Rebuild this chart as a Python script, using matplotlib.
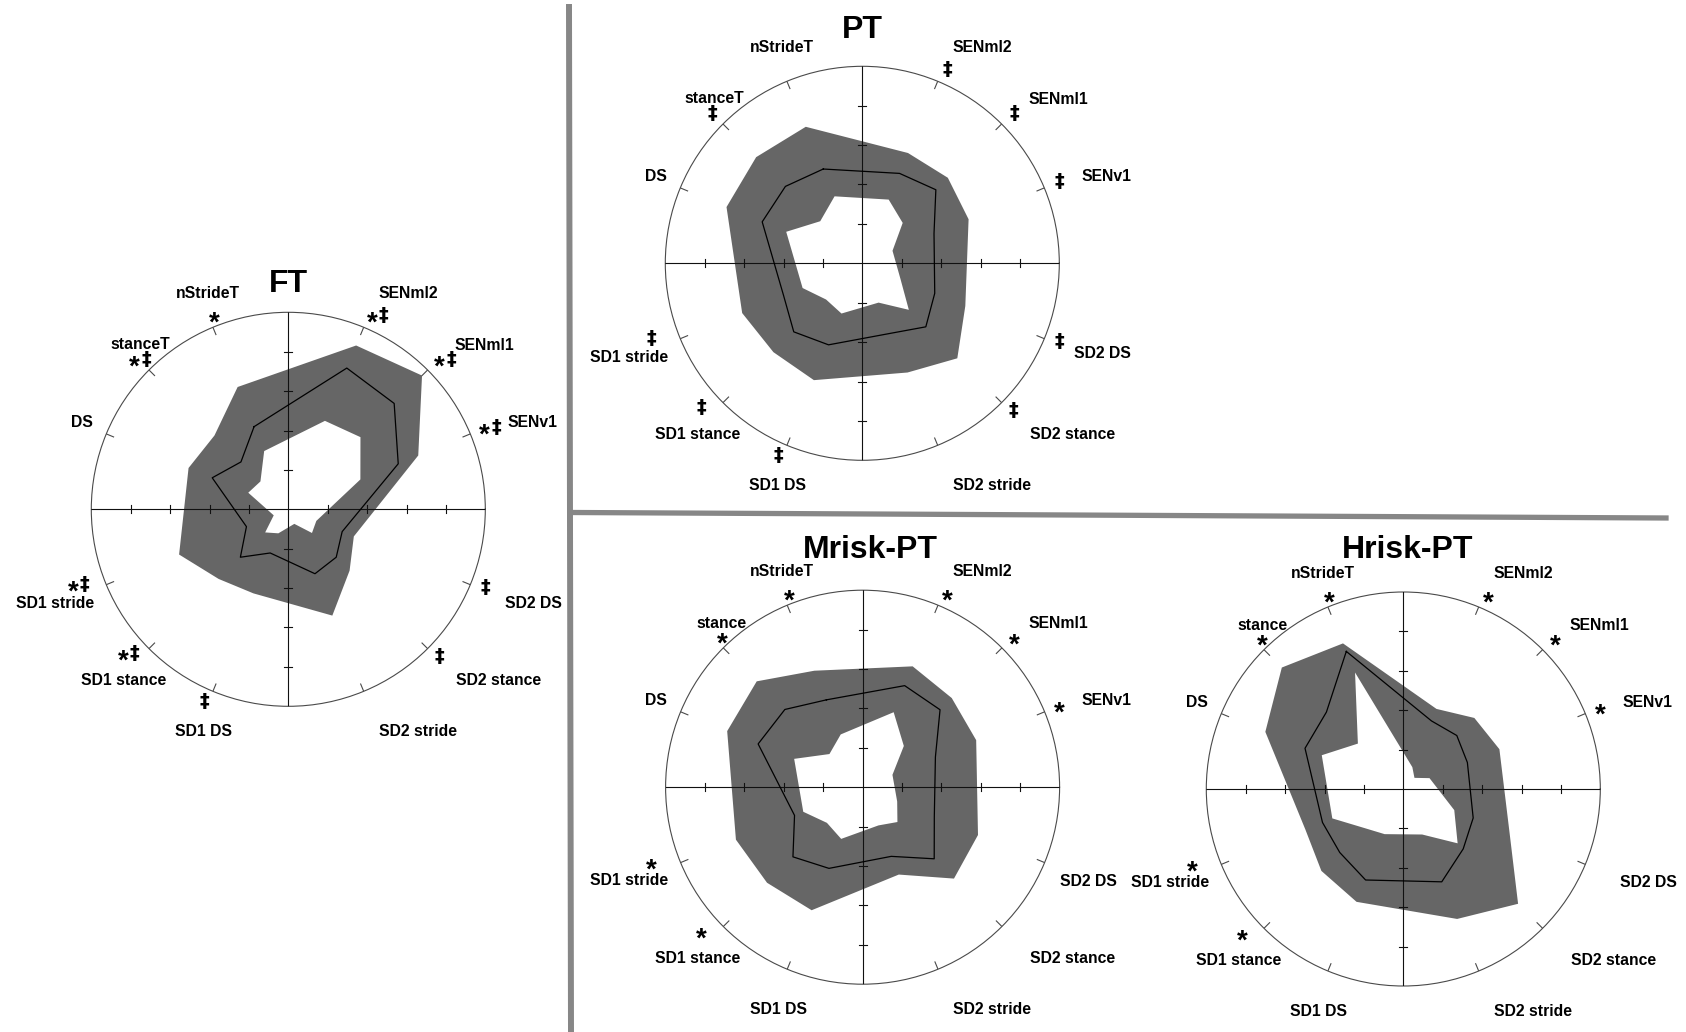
import numpy as np
import matplotlib
matplotlib.use("Agg")
import matplotlib.pyplot as plt
from matplotlib.lines import Line2D

plt.rcParams['font.family'] = ['Liberation Sans', 'DejaVu Sans']

W, H = 1686, 1032
UNIT = 39.4          # pixels por unidade radial (circulo = 5)
RMAX = 5

# variaveis e angulos (graus) de cada eixo do radar
variaveis = ['nStrideT', 'SENml2', 'SENml1', 'SENv1', 'SD2 DS', 'SD2 stance',
             'SD2 stride', 'SD1 DS', 'SD1 stance', 'SD1 stride', 'DS', 'stanceT']
angulos = [112.5, 67.5, 45, 22.5, -22.5, -45, -67.5, -112.5, -135, -157.5, 157.5, 135]

# FT
ft_inf = [1.6, 2.43, 2.59, 1.98, 0.77, 0.85, 0.4, 0.66, 0.83, 0.4, 1.1, 1.0]
ft_media = [2.27, 3.88, 3.8, 3.02, 1.48, 1.72, 1.77, 1.2, 1.72, 1.15, 2.09, 1.7]
ft_sup = [3.36, 4.5, 4.8, 3.57, 1.8, 2.2, 2.92, 2.31, 2.5, 3.0, 2.74, 2.65]
ft_sig = ['*', '*‡', '*‡', '*‡', '‡', '‡', '', '‡', '*‡', '*‡', '', '*‡']

# PT
pt_inf = [1.84, 1.75, 1.45, 0.83, 1.05, 1.67, 1.08, 1.38, 1.30, 1.64, 2.09, 1.51]
pt_media = [2.59, 2.47, 2.64, 1.97, 1.99, 2.28, 1.92, 2.24, 2.46, 2.16, 2.75, 2.76]
pt_sup = [3.75, 3.03, 3.07, 2.92, 2.83, 3.41, 3.0, 3.21, 3.19, 3.30, 3.73, 3.81]
pt_sig = ['', '‡', '‡', '‡', '‡', '‡', '', '‡', '‡', '‡', '', '‡']

# Mrisk-PT
mr_inf = [1.45, 2.06, 1.48, 0.82, 0.95, 1.25, 1.05, 1.42, 1.28, 1.63, 1.88, 1.19]
mr_media = [2.4, 2.79, 2.78, 2.0, 1.97, 2.57, 1.9, 2.23, 2.5, 1.87, 2.87, 2.79]
mr_sup = [3.2, 3.32, 3.2, 3.12, 3.17, 3.28, 2.4, 3.38, 3.43, 3.48, 3.72, 3.8]
mr_sig = ['*', '*', '*', '*', '', '', '', '', '*', '*', '', '*']

# Hrisk-PT
hr_inf = [3.2, 0.6, 0.4, 0.72, 1.4, 1.95, 1.25, 1.24, 1.4, 1.95, 2.24, 1.63]
hr_media = [3.78, 1.87, 1.92, 1.76, 1.92, 2.15, 2.55, 2.5, 2.28, 2.22, 2.7, 2.76]
hr_sup = [4.0, 2.2, 2.55, 2.64, 2.92, 4.12, 3.57, 3.1, 2.94, 2.69, 3.79, 4.36]
hr_sig = ['*', '*', '*', '*', '', '', '', '', '*', '*', '', '*']

# posicao dos rotulos (x, y em unidades do raio)
pos_rotulo = {
    'nStrideT': (-2.04, 5.5), 'SENml2': (3.04, 5.5), 'SENml1': (4.98, 4.19),
    'SENv1': (6.19, 2.23), 'SD2 DS': (6.22, -2.35), 'SD2 stance': (5.34, -4.32),
    'SD2 stride': (3.28, -5.62), 'SD1 DS': (-2.14, -5.62), 'SD1 stance': (-4.19, -4.32),
    'SD1 stride': (-5.93, -2.35), 'DS': (-5.25, 2.23), 'stanceT': (-3.75, 4.2),
}
pos_sig = {
    'nStrideT': (-1.87, 4.93), 'SENml2': (2.15, 4.92), 'SENml1': (3.86, 3.82),
    'SENv1': (5.0, 2.09), 'SD2 DS': (5.0, -1.97), 'SD2 stance': (3.83, -3.72),
    'SD2 stride': (2.2, -4.85), 'SD1 DS': (-2.14, -4.88), 'SD1 stance': (-4.09, -3.66),
    'SD1 stride': (-5.36, -1.91), 'DS': (-5.2, 2.0), 'stanceT': (-3.8, 3.82),
}

graficos = [
    # titulo, inf, media, sup, sig, centro (px), x do titulo, y do titulo, ajustes
    ('FT', ft_inf, ft_media, ft_sup, ft_sig, (288.3, 509.3), 0.0, 5.81, {}),
    ('PT', pt_inf, pt_media, pt_sup, pt_sig, (862.3, 263.3), 0.0, 6.02,
     {'SD2 DS': (6.09, -2.27)}),
    ('Mrisk-PT', mr_inf, mr_media, mr_sup, mr_sig, (862.6, 787.2), 0.2, 6.12,
     {'SD2 DS': (5.72, -2.36), 'stanceT': (-3.58, 4.19), 'sig_stanceT': (-3.57, 3.84)}),
    ('Hrisk-PT', hr_inf, hr_media, hr_sup, hr_sig, (1403.3, 789.0), 0.12, 6.15,
     {'stanceT': (-3.57, 4.19), 'sig_stanceT': (-3.57, 3.84)}),
]


def escrever(ax, x, y, s, size, frac, **kw):
    # y e o centro visual do texto; converte para a linha de base
    yb = y - frac * size / 72 * 100 / UNIT
    ax.text(np.arctan2(yb, x), np.hypot(x, yb), s, fontsize=size, fontweight='bold',
            ha='center', va='baseline', clip_on=False, **kw)


def segmento(ax, x0, y0, x1, y1, **kw):
    # segmento reto dado em x, y (unidades) desenhado no eixo polar
    ax.plot([np.arctan2(y0, x0), np.arctan2(y1, x1)],
            [np.hypot(x0, y0), np.hypot(x1, y1)], **kw)


fig = plt.figure(figsize=(W / 100, H / 100), dpi=100)

R = RMAX * UNIT
th = np.deg2rad(angulos + angulos[:1])
cor_eixo = '#111111'
cor_circ = '#4a4a4a'
meia = 0.1

for titulo, inf, media, sup, sig, (cx, cy), tx, ty, ajustes in graficos:
    ax = fig.add_axes([(cx - R) / W, (H - cy - R) / H, 2 * R / W, 2 * R / H],
                      projection='polar')
    ax.set_ylim(0, RMAX)
    ax.set_xticks([])
    ax.set_yticks([])
    ax.grid(False)
    ax.spines['polar'].set_linewidth(0.8)
    ax.spines['polar'].set_color(cor_circ)

    ax.fill(th, sup + sup[:1], color='#666666', lw=0, zorder=1)
    ax.fill(th, inf + inf[:1], color='white', lw=0, zorder=2)

    # eixos em cruz com marcas
    ax.plot([0, np.pi], [RMAX, RMAX], color=cor_eixo, lw=0.8, zorder=3)
    ax.plot([np.pi / 2, 3 * np.pi / 2], [RMAX, RMAX], color=cor_eixo, lw=0.8, zorder=3)
    for m in [-4, -3, -2, -1, 1, 2, 3, 4]:
        segmento(ax, m, -meia, m, meia, color=cor_eixo, lw=0.8, zorder=3)
        segmento(ax, -meia, m, meia, m, color=cor_eixo, lw=0.8, zorder=3)
    for a in np.deg2rad(angulos):
        ax.plot([a, a], [RMAX - 0.2, RMAX], color=cor_circ, lw=0.8, zorder=3)

    ax.plot(th, media + media[:1], color='black', lw=0.9, zorder=4)

    # titulo e rotulos
    escrever(ax, tx, ty, titulo, 23, 0.36)
    for i, v in enumerate(variaveis):
        nome = v
        if v == 'stanceT' and titulo in ('Mrisk-PT', 'Hrisk-PT'):
            nome = 'stance'
        x, y = ajustes.get(v, pos_rotulo[v])
        escrever(ax, x, y, nome, 11.3, 0.36)

        s = sig[i]
        if not s:
            continue
        sx, sy = ajustes.get('sig_' + v, pos_sig[v])
        if s == '*':
            escrever(ax, sx, sy, '*', 20, 0.56)
        elif s == '‡':
            escrever(ax, sx, sy, '‡', 14, 0.3, family='DejaVu Sans')
        else:
            sx += 0.13 if sx > 0 else 0.05
            escrever(ax, sx - 0.15, sy, '*', 20, 0.56)
            escrever(ax, sx + 0.14, sy, '‡', 14, 0.3, family='DejaVu Sans')

# linhas separadoras
cinza = '#878787'
fig.add_artist(Line2D([569 / W, 571 / W], [1 - 7 / H, 0], transform=fig.transFigure,
                      color=cinza, lw=4.3))
fig.add_artist(Line2D([572 / W, 1666 / W], [1 - 512.5 / H, 1 - 518 / H],
                      transform=fig.transFigure, color=cinza, lw=3.8))

fig.savefig('out.png', dpi=100)
